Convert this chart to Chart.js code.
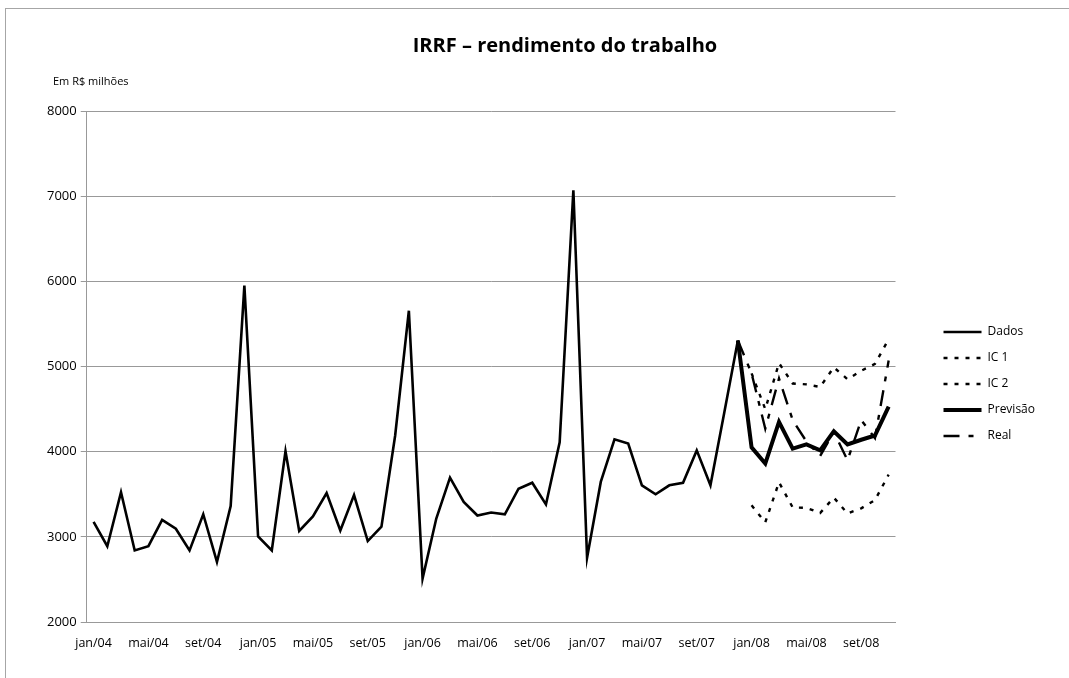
<!DOCTYPE html>
<html>
<head>
<meta charset="utf-8">
<script src="https://cdn.jsdelivr.net/npm/chart.js@4.4.1/dist/chart.umd.min.js"></script>
<style>
  html, body { margin: 0; padding: 0; background: #fff; }
  #wrap { width: 1069px; height: 678px; }
</style>
</head>
<body>
<div id="wrap"><canvas id="irrf" width="1069" height="678"></canvas></div>
<script>
// meses jan/04 .. nov/08
var meses = ['jan', 'fev', 'mar', 'abr', 'mai', 'jun', 'jul', 'ago', 'set', 'out', 'nov', 'dez']
var anos = ['04', '05', '06', '07', '08']
var labels = []
anos.forEach(function (a) {
  meses.forEach(function (m) { labels.push(m + '/' + a) })
})
labels = labels.slice(0, 59)

// Dados: jan/04 .. dez/07
var dados = [
  3175, 2890, 3525, 2840, 2890, 3200, 3095, 2840, 3265, 2705, 3360, 5950,
  3005, 2840, 4005, 3070, 3240, 3515, 3075, 3490, 2950, 3120, 4190, 5655,
  2510, 3215, 3695, 3410, 3250, 3285, 3265, 3565, 3635, 3380, 4110, 7070,
  2755, 3645, 4145, 4095, 3605, 3500, 3605, 3635, 4015, 3605, 4450, 5305
]
// Previsão e Real: dez/07 .. nov/08
var previsao = [5305, 4050, 3860, 4350, 4035, 4085, 4015, 4240, 4085, 4140, 4190, 4530]
var real = [5305, 4920, 4270, 4860, 4370, 4120, 3950, 4230, 3900, 4370, 4160, 5070]
// intervalos de confiança: jan/08 .. nov/08
var ic1 = [4920, 4500, 5040, 4800, 4790, 4760, 4990, 4850, 4950, 5030, 5320]
var ic2 = [3370, 3170, 3640, 3345, 3340, 3280, 3460, 3275, 3335, 3430, 3730]

var yTicks = [2000, 3000, 4000, 5000, 6000, 7000, 8000]

function pad (start, arr) {
  var out = []
  for (var i = 0; i < labels.length; i++) {
    var j = i - start
    out.push(j >= 0 && j < arr.length ? arr[j] : null)
  }
  return out
}

var decor = {
  id: 'decor',
  beforeDraw: function (chart) {
    var c = chart.ctx
    c.save()
    c.strokeStyle = '#a6a6a6'
    c.lineWidth = 1
    c.strokeRect(5.5, 8.5, 1200, 800)
    c.restore()
  },
  afterDraw: function (chart) {
    var c = chart.ctx
    c.save()
    c.fillStyle = '#000'
    c.textBaseline = 'middle'
    c.textAlign = 'center'
    c.font = "bold 20px 'Open Sans', sans-serif"
    c.fillText('IRRF \u2013 rendimento do trabalho', 565, 46)
    c.textAlign = 'left'
    c.font = "11px 'Open Sans', sans-serif"
    c.fillText('Em R$ milh\u00f5es', 53, 82)
    c.restore()
  }
}

Chart.defaults.font.family = "'Open Sans', sans-serif"
Chart.defaults.font.size = 13
Chart.defaults.color = '#000'

var ctx = document.getElementById('irrf')

var chart = new Chart(ctx, {
  type: 'line',
  data: {
    labels: labels,
    datasets: [
      { label: 'Dados', data: pad(0, dados), borderColor: '#000', borderWidth: 2.6, pointRadius: 0, tension: 0 },
      { label: 'IC 1', data: pad(48, ic1), borderColor: '#000', borderWidth: 2.4, borderDash: [4, 7], pointRadius: 0 },
      { label: 'IC 2', data: pad(48, ic2), borderColor: '#000', borderWidth: 2.4, borderDash: [4, 7], pointRadius: 0 },
      { label: 'Previsão', data: pad(47, previsao), borderColor: '#000', borderWidth: 4, pointRadius: 0 },
      { label: 'Real', data: pad(47, real), borderColor: '#000', borderWidth: 2.4, borderDash: [16, 9, 5, 9], pointRadius: 0 }
    ]
  },
  options: {
    responsive: false,
    animation: false,
    layout: { padding: { top: 111, left: 43, right: 24, bottom: 21 } },
    plugins: {
      title: { display: false },
      tooltip: { enabled: false },
      legend: {
        position: 'right',
        labels: {
          usePointStyle: true,
          pointStyle: 'line',
          pointStyleWidth: 38,
          padding: 14,
          color: '#000',
          font: { size: 12 },
          generateLabels: function (chart) {
            return chart.data.datasets.map(function (ds, i) {
              return {
                text: ds.label,
                datasetIndex: i,
                pointStyle: 'line',
                strokeStyle: '#000',
                fillStyle: '#000',
                fontColor: '#000',
                lineWidth: ds.label === 'Previsão' ? 4 : 2.4,
                lineDash: ds.borderDash || [],
                lineCap: 'butt',
                hidden: false
              }
            })
          }
        }
      }
    },
    scales: {
      x: {
        offset: true,
        grid: { display: false },
        border: { display: true, color: '#999' },
        ticks: {
          autoSkip: false,
          maxRotation: 0,
          padding: 6,
          font: { size: 12.5 },
          callback: function (v, i) { return i % 4 === 0 ? labels[i] : '' }
        }
      },
      y: {
        min: yTicks[0],
        max: yTicks[yTicks.length - 1],
        afterBuildTicks: function (s) { s.ticks = yTicks.map(function (v) { return { value: v } }) },
        grid: { color: '#999', tickLength: 6 },
        border: { color: '#999' },
        ticks: { padding: 4, callback: function (v) { return String(v) } }
      },
      gap: {
        position: 'right',
        display: true,
        grid: { display: false },
        border: { display: false },
        ticks: { display: false },
        afterFit: function (s) { s.width = 34 }
      }
    }
  },
  plugins: [decor]
})
</script>
</body>
</html>
